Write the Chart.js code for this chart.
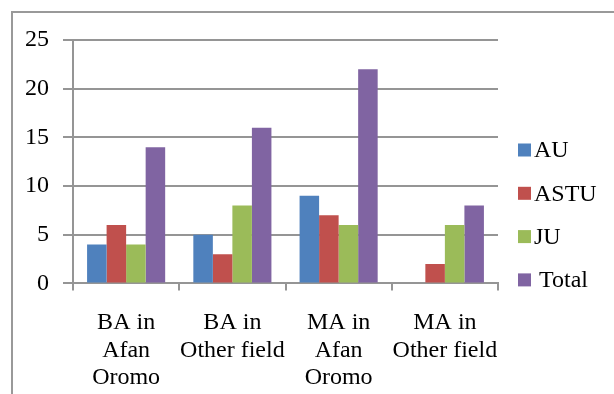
<!DOCTYPE html>
<html>
<head>
<meta charset="utf-8">
<script src="https://cdn.jsdelivr.net/npm/chart.js@4.4.1/dist/chart.umd.min.js"></script>
<style>
  html, body { margin: 0; padding: 0; background: #fff; }
  #wrap { position: relative; width: 614px; height: 394px; overflow: hidden; }
  #frame { position: absolute; left: 11px; top: 11px; width: 700px; height: 500px;
           border: 2px solid #999; box-sizing: border-box; }
  #c { position: absolute; left: 0; top: 0; }
</style>
</head>
<body>
<div id="wrap">
  <div id="frame"></div>
  <canvas id="c" width="614" height="410"></canvas>
</div>
<script>
// Programme categories (multi-line axis labels)
const categories = [
  ["BA in", "Afan", "Oromo"],
  ["BA in", "Other field"],
  ["MA in", "Afan", "Oromo"],
  ["MA in", "Other field"]
];

// Counts per university
const seriesNames = ["AU", "ASTU", "JU", "Total"];
const auValues    = [4, 5, 9, 0];
const astuValues  = [6, 3, 7, 2];
const juValues    = [4, 8, 6, 6];
const totalValues = [14, 16, 22, 8];

const yTicks = [0, 5, 10, 15, 20, 25];

const colors = ["#4F81BD", "#C0504D", "#9BBB59", "#8064A2"];
const FONT = "'Liberation Serif', 'Times New Roman', serif";
const GRID = "#959595";

// Legend drawn to the right of the plot
const sideLegend = {
  id: "sideLegend",
  afterDraw(chart) {
    const ctx = chart.ctx;
    const x0 = chart.chartArea.right + 20;
    const startY = 150, step = 43.3, box = 13;
    ctx.save();
    ctx.font = "24px " + FONT;
    ctx.textBaseline = "middle";
    ctx.textAlign = "left";
    chart.data.datasets.forEach((ds, i) => {
      const cy = startY + i * step;
      ctx.fillStyle = ds.backgroundColor;
      ctx.fillRect(x0, cy - box / 2, box, box);
      ctx.fillStyle = "#000";
      ctx.fillText(ds.label, x0 + box + 3 + (i === 3 ? 5 : 0), cy + 1);
    });
    ctx.restore();
  }
};

const values = [auValues, astuValues, juValues, totalValues];

new Chart(document.getElementById("c"), {
  type: "bar",
  data: {
    labels: categories,
    datasets: seriesNames.map((name, i) => ({
      label: name,
      data: values[i],
      backgroundColor: colors[i],
      borderWidth: 0,
      categoryPercentage: 0.735,
      barPercentage: 1.0
    }))
  },
  options: {
    responsive: false,
    animation: false,
    devicePixelRatio: 1,
    layout: { padding: { left: 11, top: 40, right: 116, bottom: 0 } },
    plugins: {
      legend: { display: false },
      tooltip: { enabled: false }
    },
    scales: {
      x: {
        grid: {
          offset: true,
          drawOnChartArea: false,
          drawTicks: true,
          tickLength: 7,
          color: GRID,
          lineWidth: 2
        },
        border: { display: true, color: GRID, width: 2 },
        ticks: {
          color: "#000",
          font: { family: FONT, size: 24, lineHeight: 1.16 },
          padding: 18,
          maxRotation: 0,
          minRotation: 0,
          autoSkip: false
        }
      },
      y: {
        min: 0,
        max: 25,
        afterBuildTicks(scale) { scale.ticks = yTicks.map(v => ({ value: v })); },
        grid: { color: GRID, lineWidth: 2, tickLength: 10 },
        border: { display: true, color: GRID, width: 2 },
        ticks: {
          color: "#000",
          font: { family: FONT, size: 24 },
          padding: 14
        }
      }
    }
  },
  plugins: [sideLegend]
});
</script>
</body>
</html>
